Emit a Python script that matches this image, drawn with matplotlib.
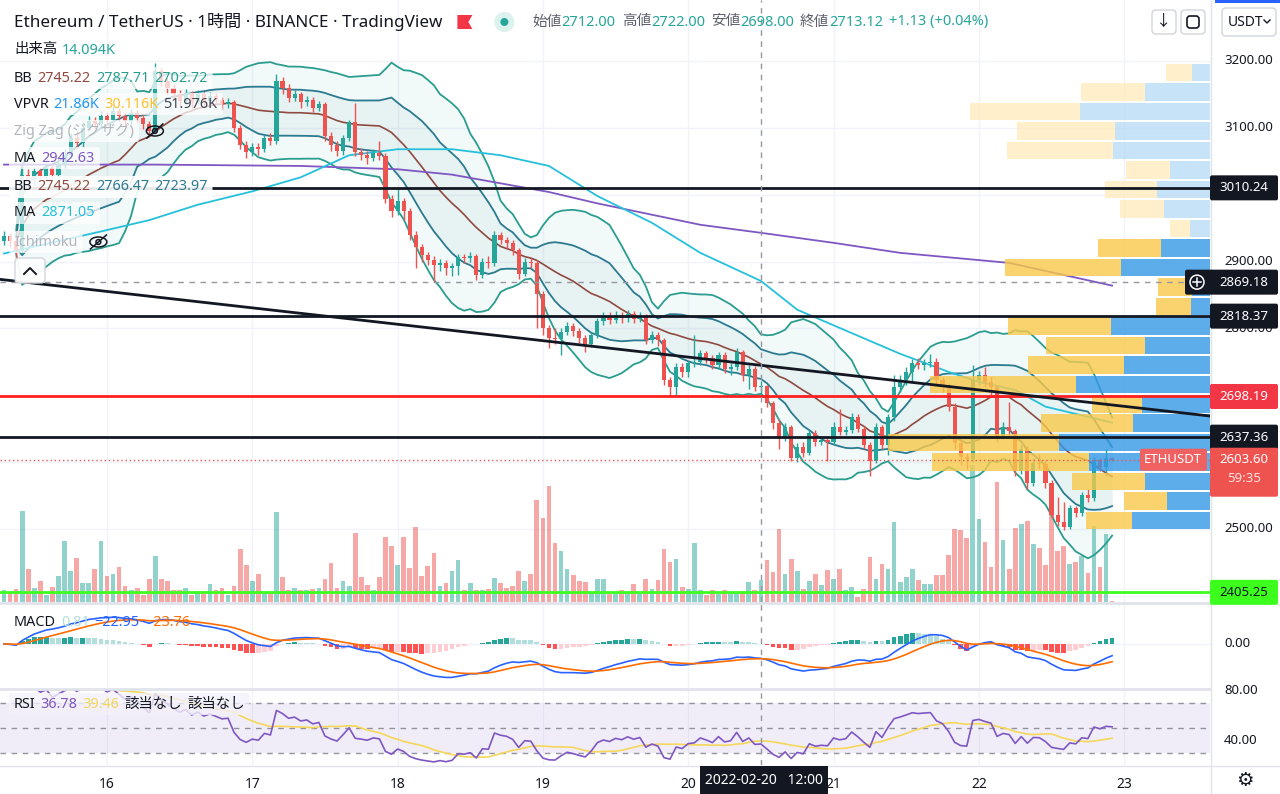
import numpy as np
import pandas as pd
import matplotlib.pyplot as plt
from matplotlib.patches import FancyBboxPatch, Polygon, Circle, Ellipse, Rectangle
from matplotlib.lines import Line2D
from matplotlib.transforms import IdentityTransform

plt.rcParams['font.family'] = ['Noto Sans', 'Noto Sans CJK JP', 'DejaVu Sans']

W, H = 1280, 794

# ETHUSDT 1h candles, 2022-02-15 07:00 .. 2022-02-22 22:00
first_open = 2930.0
closes = [
    2938, 2930, 2918, 3030, 3022, 3035, 3028, 3040, 3030, 3045, 3060, 3085,
    3078, 3100, 3110, 3105, 3118, 3112, 3125, 3118, 3110, 3122, 3115, 3105,
    3095, 3185, 3170, 3160, 3150, 3140, 3152, 3138, 3150, 3140, 3148, 3142,
    3136, 3138, 3100, 3075, 3064, 3072, 3068, 3085, 3080, 3170, 3160, 3145,
    3150, 3138, 3142, 3130, 3135, 3088, 3075, 3066, 3085, 3108, 3064, 3060,
    3055, 3062, 3058, 2994, 2975, 2990, 2975, 2940, 2922, 2910, 2902, 2895,
    2898, 2890, 2893, 2907, 2905, 2908, 2880, 2900, 2898, 2940, 2932, 2928,
    2917, 2882, 2900, 2898, 2851, 2801, 2786, 2784, 2795, 2804, 2796, 2785,
    2776, 2790, 2811, 2818, 2812, 2820, 2815, 2822, 2814, 2818, 2783, 2790,
    2782, 2723, 2713, 2743, 2735, 2748, 2750, 2763, 2755, 2745, 2760, 2740,
    2743, 2765, 2730, 2740, 2712, 2713.12, 2689, 2659, 2638, 2652, 2606, 2623,
    2614, 2644, 2630, 2633, 2630, 2653, 2645, 2648, 2668, 2650, 2626, 2601,
    2653, 2625, 2668, 2713, 2723, 2735, 2748, 2745, 2748, 2750, 2723, 2713,
    2683, 2628, 2608, 2605, 2723, 2730, 2720, 2712, 2638, 2653, 2646, 2586,
    2619, 2569, 2599, 2597, 2569, 2521, 2511, 2503, 2531, 2524, 2551, 2546,
    2603, 2593, 2606, 2603.6,
]
highs = [
    2945, 2942, 2935, 3040, 3038, 3042, 3040, 3048, 3045, 3052, 3068, 3092,
    3095, 3108, 3118, 3116, 3125, 3124, 3132, 3130, 3122, 3128, 3126, 3120,
    3110, 3197, 3190, 3175, 3165, 3156, 3158, 3155, 3156, 3154, 3153, 3152,
    3146, 3144, 3142, 3104, 3080, 3078, 3077, 3090, 3092, 3180, 3176, 3165,
    3156, 3153, 3148, 3146, 3140, 3138, 3094, 3080, 3090, 3112, 3137, 3070,
    3066, 3068, 3080, 3062, 3000, 3010, 2995, 2980, 2946, 2926, 2915, 2908,
    2904, 2902, 2898, 2912, 2912, 2914, 2912, 2906, 2908, 2946, 2944, 2936,
    2932, 2920, 2905, 2906, 2902, 2856, 2805, 2800, 2800, 2810, 2808, 2800,
    2790, 2795, 2815, 2825, 2824, 2826, 2824, 2828, 2826, 2824, 2822, 2796,
    2794, 2786, 2728, 2748, 2748, 2752, 2790, 2768, 2766, 2760, 2765, 2764,
    2748, 2770, 2768, 2745, 2744, 2722, 2716, 2692, 2664, 2658, 2656, 2628,
    2630, 2650, 2648, 2638, 2636, 2660, 2680, 2654, 2674, 2672, 2654, 2630,
    2658, 2656, 2672, 2730, 2730, 2742, 2754, 2756, 2754, 2762, 2756, 2728,
    2718, 2688, 2634, 2614, 2745, 2736, 2742, 2728, 2716, 2660, 2690, 2650,
    2626, 2624, 2606, 2612, 2602, 2574, 2548, 2540, 2536, 2535, 2556, 2560,
    2608, 2606, 2620, 2607,
]
lows = [
    2925, 2922, 2905, 2912, 3012, 3015, 3020, 3022, 3024, 3026, 3040, 3055,
    3070, 3072, 3095, 3098, 3100, 3104, 3108, 3110, 3102, 3105, 3108, 3098,
    3088, 3092, 3162, 3150, 3142, 3132, 3135, 3130, 3136, 3134, 3135, 3136,
    3128, 3130, 3094, 3068, 3055, 3058, 3060, 3064, 3074, 3076, 3150, 3138,
    3140, 3130, 3132, 3124, 3125, 3080, 3066, 3058, 3060, 3080, 3058, 3052,
    3046, 3050, 3052, 2988, 2966, 2970, 2962, 2932, 2890, 2900, 2895, 2870,
    2886, 2880, 2878, 2880, 2898, 2900, 2872, 2876, 2890, 2894, 2926, 2920,
    2910, 2874, 2878, 2890, 2800, 2790, 2770, 2776, 2760, 2790, 2788, 2778,
    2764, 2772, 2786, 2805, 2806, 2808, 2808, 2810, 2808, 2810, 2776, 2778,
    2774, 2716, 2700, 2700, 2728, 2728, 2742, 2745, 2748, 2740, 2740, 2734,
    2730, 2738, 2722, 2710, 2706, 2698, 2682, 2650, 2620, 2632, 2602, 2600,
    2608, 2610, 2624, 2626, 2602, 2626, 2640, 2640, 2644, 2645, 2620, 2580,
    2598, 2620, 2610, 2662, 2705, 2716, 2722, 2740, 2738, 2742, 2716, 2705,
    2676, 2620, 2596, 2590, 2600, 2715, 2712, 2700, 2630, 2634, 2638, 2580,
    2582, 2560, 2564, 2590, 2562, 2516, 2505, 2498, 2500, 2518, 2520, 2540,
    2542, 2586, 2580, 2602,
]
volumes = [  # K ETH
    7.7, 6.4, 8.3, 58.2, 21.1, 9.0, 13.4, 4.5, 9.6, 16.6, 39.0, 19.8,
    28.2, 12.2, 12.2, 21.1, 39.0, 16.6, 17.9, 22.4, 10.2, 7.7, 9.0, 4.5,
    14.7, 29.4, 14.7, 13.4, 7.7, 7.7, 9.0, 4.5, 7.0, 7.0, 11.5, 7.7,
    9.0, 4.5, 10.2, 33.9, 23.7, 13.4, 17.9, 5.8, 5.8, 57.6, 16.0, 7.7,
    9.0, 7.7, 7.7, 8.3, 9.0, 14.7, 25.0, 9.0, 13.4, 10.2, 44.2, 16.0,
    10.9, 7.7, 16.0, 41.6, 35.8, 23.7, 41.6, 21.8, 48.0, 16.6, 23.0, 31.4,
    10.2, 12.2, 19.8, 26.9, 7.7, 12.2, 7.7, 7.7, 8.3, 15.4, 12.2, 9.0,
    10.2, 19.8, 13.4, 17.9, 65.3, 53.8, 74.2, 37.8, 32.6, 21.1, 17.3, 13.4,
    12.8, 5.8, 14.7, 14.7, 5.1, 6.4, 7.7, 6.4, 11.5, 5.1, 14.7, 8.3,
    14.1, 33.9, 25.6, 27.5, 9.6, 8.3, 37.8, 7.7, 4.5, 7.7, 5.1, 7.7,
    5.1, 6.4, 7.0, 12.8, 7.7, 14.094, 26.9, 19.2, 46.7, 17.9, 27.5, 19.8,
    8.3, 13.4, 17.9, 10.9, 20.5, 14.7, 21.1, 7.7, 9.6, 3.2, 8.3, 28.8,
    14.7, 24.3, 21.1, 51.2, 12.8, 16.0, 21.1, 14.1, 11.5, 11.5, 17.3, 17.3,
    30.1, 46.7, 46.1, 41.0, 87.7, 53.1, 38.4, 22.4, 76.8, 39.7, 21.1, 47.4,
    49.9, 51.8, 37.1, 34.6, 23.7, 65.3, 32.6, 35.8, 24.3, 25.6, 29.4, 18.6,
    48.6, 22.4, 43.5, 0.6,
]

# long moving averages: (candle index, price)
ma_purple_idx = [0, 25, 49, 65, 74, 82, 90, 98, 115, 125, 137, 148, 166, 183]
ma_purple_val = [3045, 3045, 3043, 3038, 3030, 3017, 3004, 2987, 2955, 2943, 2928, 2913, 2898, 2864]
ma_cyan_idx = [0, 16, 24, 32, 41, 49, 57, 65, 74, 82, 90, 98, 107, 115, 125, 131,
               140, 148, 156, 161, 167, 172, 178, 183]
ma_cyan_val = [2912, 2945, 2962, 2985, 3005, 3026, 3059, 3068, 3068, 3059, 3043, 2998,
               2958, 2913, 2871, 2828, 2793, 2762, 2735, 2720, 2708, 2683, 2670, 2659]

# drawings
trend_idx = [0, 183]
trend_price = [2872.7, 2685.5]
level_prices = [3010.24, 2818.37, 2698.19, 2637.36, 2405.25]
level_colors = ['#131722', '#131722', '#ff1f1f', '#131722', '#3cff1e']

# visible-range volume profile, bottom row first (K)
vp_up = [78, 43, 65, 121, 151, 77, 68, 134, 86, 65, 99, 19, 18, 89, 49, 20, 46, 53, 40, 97, 95, 130, 65, 18]
vp_down = [46, 43, 73, 157, 171, 92, 50, 146, 96, 99, 103, 35, 34, 116, 63, 20, 44, 52, 44, 106, 98, 110, 64, 26]
vp_value_rows = 15

day_labels = ['16', '17', '18', '19', '20', '21', '22', '23']
day_idx = [17, 41, 65, 89, 113, 137, 161, 185]
price_grid = [3200, 3100, 3000, 2900, 2800, 2700, 2600, 2500, 2400]
price_labels = [3200, 3100, 2900, 2800, 2500]   # the rest sit under the level tags
hover_idx = 125
hover_price = 2869.18
last_price = 2603.60
hover_time = '2022-02-20   12:00'

# ---------------------------------------------------------------- indicators
c = np.array(closes, float)
o = np.r_[first_open, c[:-1]]
hi = np.array(highs, float)
lo = np.array(lows, float)
v = np.array(volumes, float)
n = len(c)
idx = np.arange(n)
up = c >= o

s = pd.Series(c)
mid = s.rolling(20, min_periods=3).mean()
sd = s.rolling(20, min_periods=3).std(ddof=0)

ema12 = s.ewm(span=12, adjust=False).mean()
ema26 = s.ewm(span=26, adjust=False).mean()
macd = ema12 - ema26
sig = macd.ewm(span=9, adjust=False).mean()
hist = macd - sig
prev = hist.shift(1).fillna(0)
hcol = np.where(hist >= 0,
                np.where(hist > prev, '#26a69a', '#b2dfdb'),
                np.where(hist > prev, '#ffcdd2', '#ff5252'))

d = s.diff()
gain = d.clip(lower=0).ewm(alpha=1 / 14, adjust=True, min_periods=3).mean()
loss = (-d.clip(upper=0)).ewm(alpha=1 / 14, adjust=True, min_periods=3).mean()
rsi = 100 - 100 / (1 + gain / loss)
rsi_ma = rsi.rolling(14, min_periods=1).mean()

# ---------------------------------------------------------------- figure
fig = plt.figure(figsize=(W / 100, H / 100), dpi=100, facecolor='white')
ID = IdentityTransform()


def axes_px(x0, y0, x1, y1):
    return fig.add_axes([x0 / W, 1 - y1 / H, (x1 - x0) / W, (y1 - y0) / H])


ax = axes_px(0, 0, 1210, 602)
axm = axes_px(0, 604, 1210, 688)
axr = axes_px(0, 690, 1210, 765)
xlim = (-0.66, 199.17)
for a in (ax, axm, axr):
    a.set_xlim(*xlim)
    for sp in a.spines.values():
        sp.set_visible(False)
    a.set_xticks([])
    a.set_yticks([])
    for j in day_idx:
        a.axvline(j, color='#f0f3fa', lw=1, zorder=0)
ax.set_ylim(2390.8, 3291.2)
axm.set_ylim(-72.2, 65.6)
axr.set_ylim(20, 80)
for p in price_grid:
    ax.axhline(p, color='#f0f3fa', lw=1, zorder=0)

# volume (own scale, under candles)
axvol = ax.inset_axes([0, 0, 1, 1], zorder=1)
axvol.set_xlim(*xlim)
axvol.set_ylim(0, 385)
axvol.axis('off')
axvol.bar(idx, v, width=0.78, color=np.where(up, '#26a69a', '#ef5350'), alpha=0.5, lw=0)

# bollinger bands
ax.fill_between(idx, mid - 2 * sd, mid + 2 * sd, color='#26a69a', alpha=0.06, lw=0, zorder=1.2)
ax.fill_between(idx, mid - sd, mid + sd, color='#2b7a90', alpha=0.05, lw=0, zorder=1.3)
for band in (mid + 2 * sd, mid - 2 * sd):
    ax.plot(idx, band, color='#2a9d8f', lw=1.3, zorder=2)
for band in (mid + sd, mid - sd):
    ax.plot(idx, band, color='#2b7a90', lw=1.3, zorder=2)
ax.plot(idx, mid, color='#8f4a40', lw=1.2, zorder=2)

ax.plot(ma_purple_idx, ma_purple_val, color='#7e57c2', lw=1.3, zorder=2.2)
ax.plot(ma_cyan_idx, ma_cyan_val, color='#26c0dc', lw=1.3, zorder=2.2)

# candles
ccol = np.where(up, '#26a69a', '#ef5350')
ax.vlines(idx, lo, hi, colors=ccol, lw=1, zorder=2.9)
ax.bar(idx, np.maximum(np.abs(c - o), 0.9), bottom=np.minimum(o, c), width=0.68,
       color=ccol, lw=0, zorder=3)

# volume profile
axv = ax.inset_axes([0, 0, 1, 1], zorder=4)
axv.axis('off')
axv.set_ylim(ax.get_ylim())
edges = np.linspace(lo.min(), hi.max(), len(vp_up) + 1)
centers = (edges[:-1] + edges[1:]) / 2
binh = edges[1] - edges[0]
vu = np.array(vp_up, float)
vd = np.array(vp_down, float)
axv.set_xlim((vu + vd).max() / 0.266, 0)
in_va = np.arange(len(vu)) < vp_value_rows
axv.barh(centers, vu, height=binh * 0.9, left=0,
         color=np.where(in_va, '#3599e7', '#b9dcf5'), alpha=0.8, lw=0)
axv.barh(centers, vd, height=binh * 0.9, left=vu,
         color=np.where(in_va, '#f9c94a', '#ffebbf'), alpha=0.8, lw=0)

# drawn lines on top
axl = ax.inset_axes([0, 0, 1, 1], zorder=6)
axl.axis('off')
axl.set_xlim(*xlim)
axl.set_ylim(ax.get_ylim())
for p, col in zip(level_prices, level_colors):
    axl.axhline(p, color=col, lw=2)
axl.axline((trend_idx[0], trend_price[0]), (trend_idx[1], trend_price[1]), color='#131722', lw=2)
axl.axhline(last_price, color='#ef5350', lw=1, ls=(0, (1, 2)))
axl.hlines(hover_price, xlim[0], 195, color='#9598a1', lw=1, ls=(0, (4, 4)))
for a in (axl, axm, axr):
    a.axvline(hover_idx, color='#9598a1', lw=1, ls=(0, (4, 4)), zorder=8)

# MACD
axm.axhline(0, color='#f0f3fa', lw=1, zorder=0)
axm.bar(idx, hist, width=0.78, color=hcol, lw=0, zorder=2)
axm.plot(idx, macd, color='#2962ff', lw=1.2, zorder=3)
axm.plot(idx, sig, color='#ff6d00', lw=1.2, zorder=3)

# RSI
axr.axhspan(30, 70, color='#7e57c2', alpha=0.1, lw=0)
for lvl in (70, 50, 30):
    axr.axhline(lvl, color='#787b86', lw=1, ls=(0, (4, 4)), alpha=0.8)
axr.plot(idx, rsi, color='#7e57c2', lw=1.2, zorder=3)
axr.plot(idx, rsi_ma, color='#f5d75a', lw=1.2, zorder=2.5)
axr.set_xticks(day_idx, day_labels)
axr.tick_params(axis='x', length=0, pad=9, labelsize=10, labelcolor='#131722')

# ---------------------------------------------------------------- overlay
renderer = fig.canvas.get_renderer()
DARK = '#131722'


def box(x0, y0, x1, y1, fc, ec='none', r=2, z=5, alpha=1.0, lw=1):
    p = FancyBboxPatch((x0, H - y1), x1 - x0, y1 - y0,
                       boxstyle=f'round,pad=0,rounding_size={r}', fc=fc, ec=ec,
                       lw=lw, alpha=alpha, transform=ID, zorder=z)
    fig.add_artist(p)
    return p


def txt(x, y, s, color, size, ha='left', z=7, weight='normal'):
    return fig.text(x, H - y, s, color=color, fontsize=size, ha=ha, va='center',
                    transform=ID, zorder=z, fontweight=weight)


def line(xs, ys, color, lw=1.2, z=7, **kw):
    fig.add_artist(Line2D(xs, [H - y for y in ys], transform=ID, color=color, lw=lw, zorder=z, **kw))


def row(x, y, parts, size=10.4, gap=5, bg=None, bg_alpha=0.75):
    start = x
    for part in parts:
        s_, col = part[0], part[1]
        g = part[2] if len(part) > 2 else gap
        t = txt(x, y, s_, col, size)
        x += t.get_window_extent(renderer).width + g
    if bg:
        box(start - 5, y - 11, x - gap + 5, y + 11, bg, alpha=bg_alpha, z=6)
    return x


def yof(axis, val):
    return H - axis.transData.transform((0, val))[1]


def eye(x, y):
    fig.add_artist(Ellipse((x, H - y), 17, 10, fill=False, ec=DARK, lw=1.1, transform=ID, zorder=7))
    fig.add_artist(Circle((x, H - y), 2.4, fill=False, ec=DARK, lw=1.1, transform=ID, zorder=7))
    line([x - 8, x + 8], [y + 7, y - 7], DARK, lw=1.1)


# separators
line([0, 1210], [603, 603], '#e0e3eb', lw=2, z=3)
line([0, 1210], [689, 689], '#e0e3eb', lw=2, z=3)
line([0, 1280], [765.5, 765.5], '#e0e3eb', lw=1, z=3)
line([1210.5, 1210.5], [0, 794], '#e0e3eb', lw=1, z=3)

# header
end = row(14, 22, [('Ethereum / TetherUS · 1時間 · BINANCE · TradingView', DARK)], size=12.3)
fx = end + 10
fig.add_artist(Polygon([(fx, H - 15), (fx + 15, H - 15), (fx + 11, H - 22), (fx + 15, H - 29), (fx, H - 29)],
                       closed=True, fc='#f23645', ec='none', transform=ID, zorder=7))
dx = fx + 47
fig.add_artist(Circle((dx, H - 22), 10, fc='#dcf2ee', ec='none', transform=ID, zorder=7))
fig.add_artist(Circle((dx, H - 22), 4, fc='#26a69a', ec='none', transform=ID, zorder=7))
TEAL = '#26a69a'
GRAY = '#5d606b'
row(dx + 28, 22, [('始値', GRAY, 0), ('2712.00', TEAL, 6), ('高値', GRAY, 0), ('2722.00', TEAL, 6),
                  ('安値', GRAY, 0), ('2698.00', TEAL, 6), ('終値', GRAY, 0), ('2713.12', TEAL, 6),
                  ('+1.13 (+0.04%)', TEAL)], size=10.5)

# toolbar buttons
box(1152, 10, 1176, 34, 'white', ec='#d1d4dc', r=4, z=7)
txt(1164, 22, '↓', DARK, 11, ha='center', z=8)
box(1181, 10, 1205, 34, 'white', ec='#d1d4dc', r=4, z=7)
box(1187, 16, 1199, 28, 'none', ec=DARK, r=3, z=8, lw=1.2)
box(1222, 8, 1276, 36, 'white', ec='#d1d4dc', r=4, z=7)
txt(1228, 22, 'USDT', DARK, 10, z=8)
line([1264, 1267, 1270], [20, 23, 20], DARK, lw=1, z=8)
fig.add_artist(Rectangle((1215, H - 3), 65, 3, fc='#2962ff', ec='none', transform=ID, zorder=7))

# indicator legends
BROWN = '#8f4a40'
row(14, 50, [('出来高', DARK), ('14.094K', TEAL)], bg='white')
row(14, 78, [('BB', DARK), ('2745.22', BROWN), ('2787.71', '#2a9d8f'), ('2702.72', '#2a9d8f')], bg='white')
row(14, 104, [('VPVR', DARK), ('21.86K', '#2196f3'), ('30.116K', '#fbc02d'), ('51.976K', '#434651')], bg='white')
e = row(14, 131, [('Zig Zag (ジグザグ)', '#b2b5be')], bg='white')
eye(e + 16, 131)
row(14, 158, [('MA', DARK), ('2942.63', '#7e57c2')], bg='white')
row(14, 187, [('BB', DARK), ('2745.22', BROWN), ('2766.47', '#2b7a90'), ('2723.97', '#2b7a90')], bg='white', bg_alpha=0.9)
row(14, 213, [('MA', DARK), ('2871.05', '#26c0dc')], bg='white')
e = row(14, 242, [('Ichimoku', '#b2b5be')], bg='white')
eye(e + 16, 242)
box(15, 258, 45, 283, 'white', ec='#d1d4dc', r=4, z=7, alpha=0.95)
line([24, 30, 36], [274, 268, 274], DARK, lw=1.4, z=8)

row(14, 622, [('MACD', DARK), ('0.81', '#b2dfdb'), ('−22.95', '#2962ff'), ('−23.76', '#ff6d00')])
row(14, 704, [('RSI', DARK), ('36.78', '#7e57c2'), ('39.46', '#f5d75a'), ('該当なし', DARK), ('該当なし', DARK)],
    bg='#f3f0fa', bg_alpha=0.8)

# price scale
for p in price_labels:
    txt(1224, yof(ax, p), f'{p:.2f}', DARK, 9.5, z=5)
txt(1224, yof(axm, 0), '0.00', DARK, 9.5, z=5)
txt(1224, yof(axr, 80), '80.00', DARK, 9.5, z=5)
txt(1224, yof(axr, 40), '40.00', DARK, 9.5, z=5)

for p, bg, fg in [(3010.24, DARK, 'white'), (2818.37, DARK, 'white'), (2698.19, '#f23645', 'white'),
                  (2637.36, DARK, 'white'), (2405.25, '#3cff1e', DARK)]:
    y = yof(ax, p)
    box(1210, y - 12.5, 1278, y + 12.5, bg, z=8)
    txt(1244, y, f'{p:.2f}', fg, 9.5, ha='center', z=9)

y = yof(ax, hover_price)
box(1185, y - 12.5, 1278, y + 12.5, DARK, z=8)
fig.add_artist(Circle((1197, H - y), 7, fill=False, ec='white', lw=1.1, transform=ID, zorder=9))
line([1193, 1201], [y, y], 'white', lw=1.1, z=9)
line([1197, 1197], [y - 4, y + 4], 'white', lw=1.1, z=9)
txt(1244, y, f'{hover_price:.2f}', 'white', 9.5, ha='center', z=9)

y = yof(ax, last_price)
box(1210, y - 12, 1278, y + 37, '#ef5350', z=8)
txt(1244, y, f'{last_price:.2f}', 'white', 9.5, ha='center', z=9)
txt(1244, y + 19, '59:35', '#ffe3e3', 9.5, ha='center', z=9)
box(1140, y - 11, 1207, y + 11, '#f06262', z=8)
txt(1173, y, 'ETHUSDT', 'white', 9.5, ha='center', z=9)

# time scale
box(700, 766, 828, 794, DARK, r=0, z=8)
txt(764, 780, hover_time, 'white', 10, ha='center', z=9)
txt(1245, 781, '⚙', DARK, 14, ha='center', z=8)

fig.savefig('out.png', dpi=100, facecolor='white')
